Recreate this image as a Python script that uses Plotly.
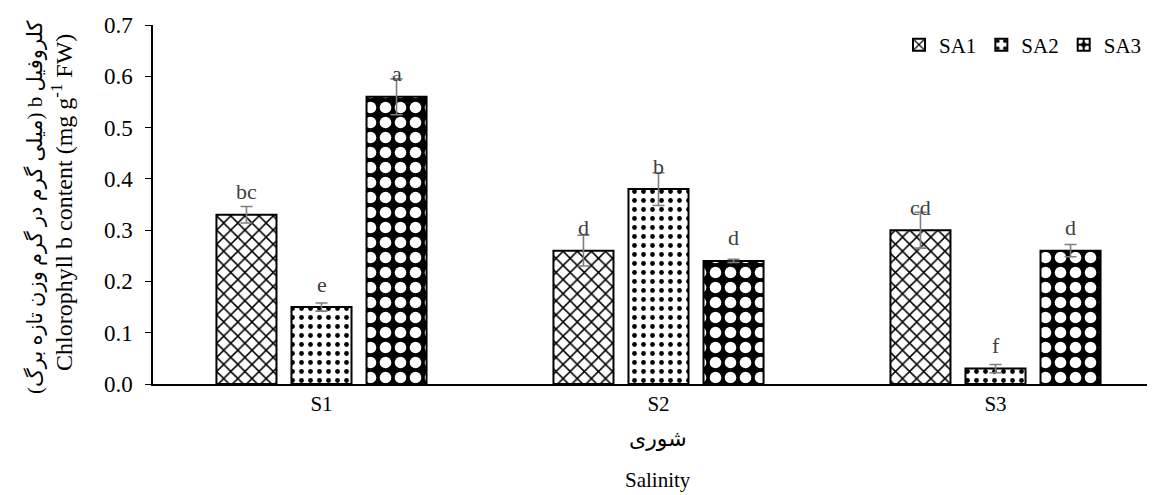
import plotly.graph_objects as go

categories = ["S1", "S2", "S3"]
series_names = ["SA1", "SA2", "SA3"]
sa1 = [0.33, 0.26, 0.30]
sa2 = [0.15, 0.38, 0.03]
sa3 = [0.56, 0.24, 0.26]
sa1_err = [0.016, 0.030, 0.035]
sa2_err = [0.008, 0.032, 0.008]
sa3_err = [0.035, 0.003, 0.012]
sa1_letters = ["bc", "d", "cd"]
sa2_letters = ["e", "b", "f"]
sa3_letters = ["a", "d", "d"]
y_ticks = [0.0, 0.1, 0.2, 0.3, 0.4, 0.5, 0.6, 0.7]

FONT = "Liberation Serif, Times New Roman, DejaVu Sans, serif"

values = [sa1, sa2, sa3]
errors = [sa1_err, sa2_err, sa3_err]
letters = [sa1_letters, sa2_letters, sa3_letters]
markers = [
    dict(color="white", line=dict(color="black", width=2),
         pattern=dict(shape="x", fgcolor="#000000", bgcolor="#ffffff", fgopacity=1,
                      size=10, solidity=0.28)),
    dict(color="white", line=dict(color="black", width=2),
         pattern=dict(shape=".", fgcolor="#000000", bgcolor="#ffffff", fgopacity=1,
                      size=9, solidity=0.22)),
    dict(color="black", line=dict(color="black", width=2),
         pattern=dict(shape=".", fillmode="overlay", fgcolor="#ffffff", fgopacity=1,
                      size=15, solidity=0.47)),
]

fig = go.Figure()
for name, v, e, m in zip(series_names, values, errors, markers):
    fig.add_trace(go.Bar(
        name=name, x=categories, y=v, marker=m,
        error_y=dict(type="data", array=e, visible=True, color="#7f7f7f", thickness=1.6, width=6),
    ))

# page has an 8px body margin; lay out in page pixels and convert
OFF = 8
W, H = 1155 - OFF, 495 - OFF
L, R, T = 153 - OFF, 0, 25 - OFF
plot_bottom = 384 - OFF
B = H - plot_bottom
pw, ph = W - L - R, H - T - B

def px_x(x):
    return (x - OFF - L) / pw

def px_y(y):
    return (plot_bottom - (y - OFF)) / ph

annotations = []
n = len(series_names)
bargap = 0.332
slot = (1 - bargap) / n
for i, (v, lab) in enumerate(zip(values, letters)):
    off = -((1 - bargap) / 2) + slot * (i + 0.5)
    for j, cat in enumerate(categories):
        annotations.append(dict(
            x=j + off, y=v[j], xref="x", yref="y", text=lab[j], showarrow=False,
            xanchor="center", yanchor="middle",
            yshift=23, font=dict(family=FONT, size=22, color="#404040"),
        ))

annotations += [
    dict(x=px_x(658), y=px_y(438), xref="paper", yref="paper", text="شوری", showarrow=False,
         xanchor="center", yanchor="middle",
         font=dict(family=FONT, size=22, color="black")),
    dict(x=px_x(658), y=px_y(480), xref="paper", yref="paper", text="Salinity", showarrow=False,
         xanchor="center", yanchor="middle",
         font=dict(family=FONT, size=21, color="black")),
    dict(x=px_x(35), y=px_y(208), xref="paper", yref="paper",
         text="\u202Bکلروفیل b (میلی گرم در گرم وزن تازه برگ)\u202C",
         xanchor="center", yanchor="middle",
         textangle=-90, showarrow=False, font=dict(family=FONT, size=21, color="black")),
    dict(x=px_x(62), y=px_y(203), xref="paper", yref="paper",
         text="Chlorophyll b content (mg g<sup>-1</sup> FW)",
         xanchor="center", yanchor="middle",
         textangle=-90, showarrow=False, font=dict(family=FONT, size=24, color="black")),
]

fig.update_layout(
    width=W, height=H,
    margin=dict(l=L, r=R, t=T, b=B),
    paper_bgcolor="white", plot_bgcolor="white",
    barmode="group", bargap=bargap, bargroupgap=0.2,
    font=dict(family=FONT, size=21, color="black"),
    showlegend=True,
    legend=dict(orientation="h", x=0.992, xanchor="right", y=px_y(45), yanchor="middle",
                font=dict(family=FONT, size=21), bgcolor="rgba(0,0,0,0)",
                itemwidth=30, traceorder="normal"),
    annotations=annotations,
    xaxis=dict(range=[-0.5, -0.5 + pw / 337.0], showline=True, linecolor="black", linewidth=2,
               ticks="", showgrid=False, zeroline=False,
               tickfont=dict(family=FONT, size=21, color="black")),
    yaxis=dict(range=[0, 0.7], tickvals=y_ticks, tickformat=".1f", showline=True, linecolor="black",
               linewidth=1.5, ticks="outside", ticklen=6, tickcolor="black", showgrid=False,
               zeroline=False, ticklabelstandoff=8,
               tickfont=dict(family=FONT, size=23, color="black")),
)

fig.write_html("out.html")
